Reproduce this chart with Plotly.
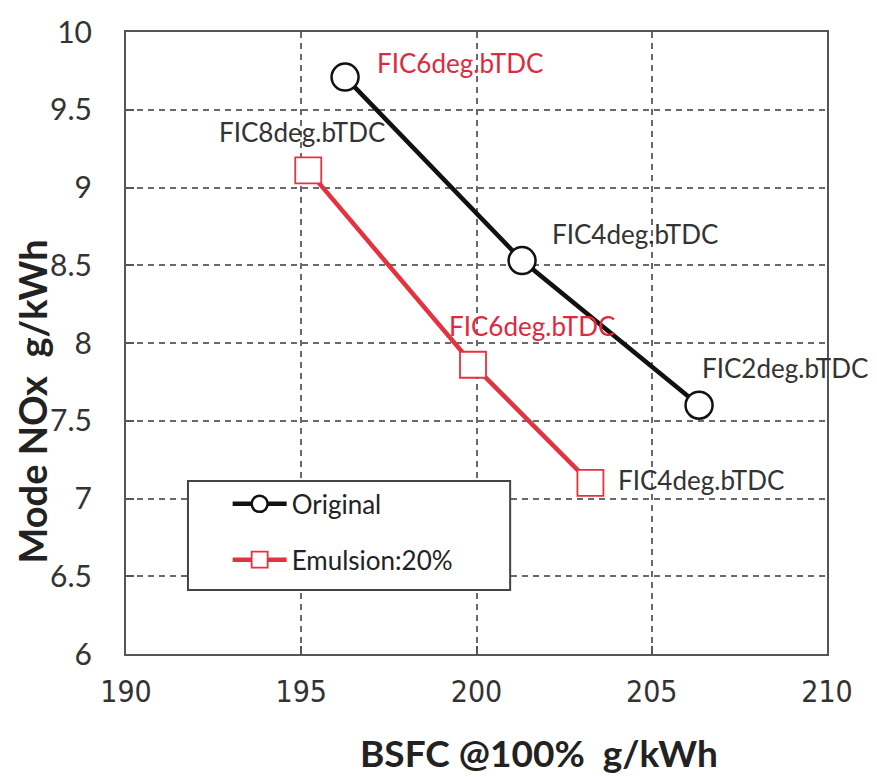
import plotly.graph_objects as go

# ---- data ----
orig_bsfc = [196.25, 201.3, 206.35]
orig_nox = [9.71, 8.53, 7.60]
orig_labels = ["FIC6deg.bTDC", "FIC4deg.bTDC", "FIC2deg.bTDC"]

emul_bsfc = [195.2, 199.9, 203.25]
emul_nox = [9.11, 7.86, 7.10]
emul_labels = ["FIC8deg.bTDC", "FIC6deg.bTDC", "FIC4deg.bTDC"]

x_ticks = [190, 195, 200, 205, 210]
y_ticks = [6, 6.5, 7, 7.5, 8, 8.5, 9, 9.5, 10]

RED = "#e4323f"
RED_TXT = "#dc2a40"
DARK = "#333333"
LBL_FONT = "Lato, Open Sans, sans-serif"

fig = go.Figure()
fig.add_trace(go.Scatter(
    x=orig_bsfc, y=orig_nox, name="Original", mode="lines+markers",
    legendgroup="a",
    line=dict(color="#111111", width=4.5),
    marker=dict(symbol="circle", size=27, color="white",
                line=dict(color="#111111", width=2.5)),
))
fig.add_trace(go.Scatter(
    x=emul_bsfc, y=emul_nox, name="Emulsion:20%", mode="lines+markers",
    legendgroup="b",
    line=dict(color=RED, width=4.5),
    marker=dict(symbol="square", size=26, color="white",
                line=dict(color=RED, width=1.8)),
))

# point labels (pixel offsets relative to the points)
orig_style = [(RED_TXT, "left", 30, 14), (DARK, "left", 28, 27), (DARK, "left", 1, 37)]
emul_style = [(DARK, "center", -6, 38), (RED_TXT, "left", -26, 39), (DARK, "left", 26, 3)]
for xs, ys, labs, sty in [(orig_bsfc, orig_nox, orig_labels, orig_style),
                          (emul_bsfc, emul_nox, emul_labels, emul_style)]:
    for x, y, t, (c, xa, dx, dy) in zip(xs, ys, labs, sty):
        fig.add_annotation(x=x, y=y, text=t, showarrow=False, xanchor=xa,
                           yanchor="middle", xshift=dx, yshift=dy,
                           font=dict(family=LBL_FONT, size=26, color=c))

# axis titles
fig.add_annotation(xref="paper", yref="paper", x=0.589, y=-0.158,
                   text="<b>BSFC @100%  g/kWh</b>", showarrow=False,
                   xanchor="center", yanchor="middle",
                   font=dict(family=LBL_FONT, size=37, color="#222222"))
fig.add_annotation(xref="paper", yref="paper", x=-0.134, y=0.406,
                   text="<b>Mode NOx  g/kWh</b>", showarrow=False, textangle=-90,
                   xanchor="center", yanchor="middle",
                   font=dict(family=LBL_FONT, size=38, color="#222222"))

# legend box
fig.add_shape(type="rect", xref="paper", yref="paper",
              x0=0.0884, x1=0.548, y0=0.1027, y1=0.278,
              line=dict(color="#444444", width=2), fillcolor="white", layer="above")

axis_common = dict(showline=True, mirror=True, linecolor="#555555", linewidth=2,
                   ticks="inside", ticklen=8, tickwidth=2, tickcolor="#555555",
                   showgrid=True, gridcolor="#6a6a6a", gridwidth=1.5,
                   griddash="6px,5px", zeroline=False)

fig.update_layout(
    width=877, height=777,
    margin=dict(l=126, r=50, t=21, b=123),
    paper_bgcolor="white", plot_bgcolor="white",
    xaxis=dict(range=[190, 210], tickvals=x_ticks, ticklabelstandoff=10,
               tickfont=dict(family="Liberation Sans Narrow, DejaVu Sans Condensed, Arial Narrow, sans-serif",
                             size=30, color="#333333"),
               **axis_common),
    yaxis=dict(range=[6, 10], tickvals=y_ticks, ticklabelstandoff=26,
               tickfont=dict(family=LBL_FONT, size=30, color="#333333"),
               **axis_common),
    showlegend=True,
    legend=dict(x=0.145, y=0.279, xanchor="left", yanchor="top",
                bgcolor="rgba(0,0,0,0)", borderwidth=0,
                traceorder="grouped", tracegroupgap=19, itemwidth=54,
                font=dict(family=LBL_FONT, size=26, color="#222222")),
)

fig.write_html("out.html")
